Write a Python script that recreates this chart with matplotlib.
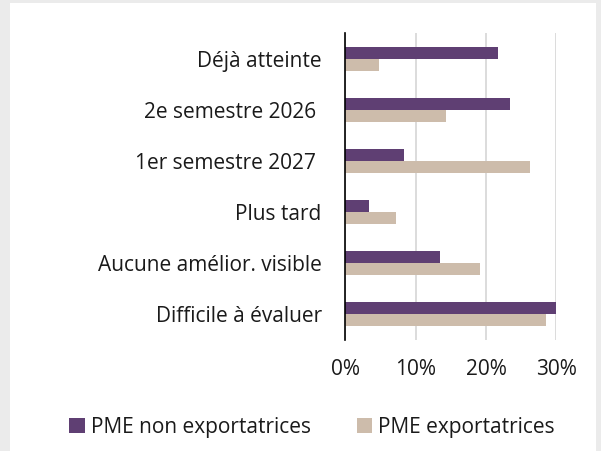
import matplotlib
matplotlib.use("Agg")
import matplotlib.pyplot as plt
from matplotlib.patches import Rectangle
import numpy as np

categories = ["Déjà atteinte", "2e semestre 2026 ", "1er semestre 2027 ", "Plus tard",
              "Aucune amélior. visible", "Difficile à évaluer"]
non_export = [21.7, 23.4, 8.3, 3.3, 13.4, 30.0]
export = [4.8, 14.3, 26.2, 7.2, 19.1, 28.6]
series_names = ["PME non exportatrices", "PME exportatrices"]
xticks = [0, 10, 20, 30]
xtick_labels = ["0%", "10%", "20%", "30%"]

purple = "#5f3f73"
beige = "#cdbcab"

plt.rcParams['font.family'] = ['Open Sans', 'DejaVu Sans']
FS = 15

W, H = 601, 451
fig = plt.figure(figsize=(W / 100, H / 100), dpi=100)
fig.patch.set_facecolor("#ebebeb")
# white panel
fig.patches.append(Rectangle((10 / W, 0), (596 - 10) / W, (451 - 3) / H,
                             transform=fig.transFigure, facecolor="white",
                             edgecolor="none", zorder=-5))

ax = fig.add_axes([345.3 / W, (451 - 340) / H, (556.3 - 345.3) / W, (340 - 33) / H])
ax.set_zorder(2)
ax.set_facecolor("none")
y = np.arange(len(categories))
h = 0.235
ax.barh(y - h / 2, non_export, height=h, color=purple, zorder=3, label=series_names[0])
ax.barh(y + h / 2, export, height=h, color=beige, zorder=3, label=series_names[1])
ax.set_ylim(len(categories) - 0.5, -0.5)
ax.set_xlim(0, 30)
ax.set_yticks(y)
ax.set_yticklabels(categories, fontsize=FS, color="#1a1a1a")
ax.set_xticks(xticks)
ax.set_xticklabels(xtick_labels, fontsize=FS, color="#1a1a1a")
ax.tick_params(axis="y", length=0, pad=17)
ax.tick_params(axis="x", length=0, pad=14)
ax.grid(axis="x", color="#d9d9d9", linewidth=1.3, zorder=1)
for s in ["top", "right", "bottom"]:
    ax.spines[s].set_visible(False)
ax.spines["left"].set_color("black")
ax.spines["left"].set_linewidth(1.2)
ax.spines["left"].set_zorder(4)

handles, labels = ax.get_legend_handles_labels()
leg = fig.legend(handles, labels, loc="center", bbox_to_anchor=(312 / W, (451 - 427) / H),
                 ncol=2, frameon=False, fontsize=FS, handlelength=0.75, handleheight=0.75,
                 handletextpad=0.3, columnspacing=2.2, labelcolor="#1a1a1a")
leg.set_zorder(3)

fig.savefig("out.png", dpi=100, facecolor=fig.get_facecolor())
